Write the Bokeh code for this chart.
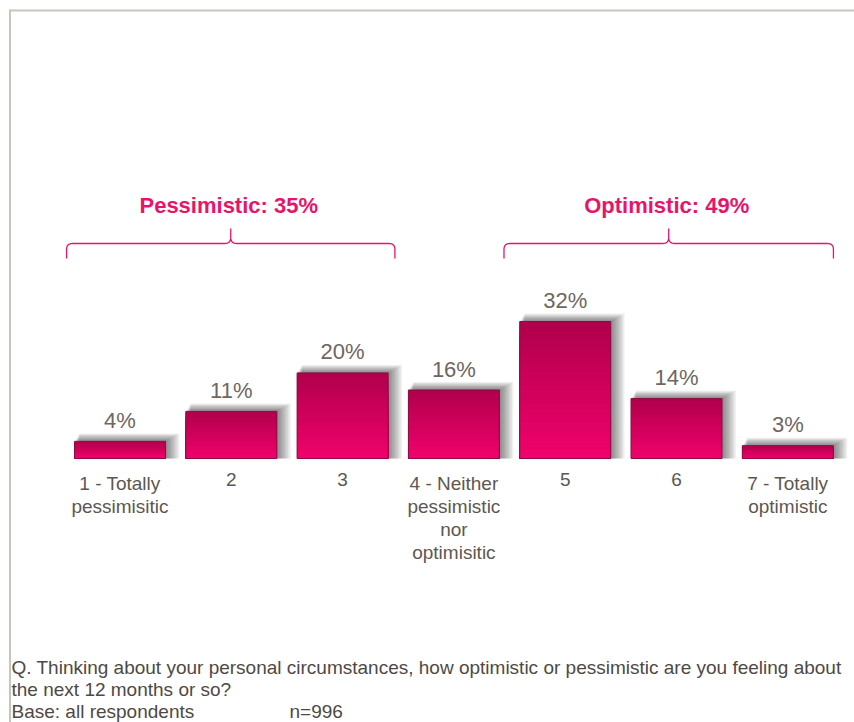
from bokeh.plotting import figure
from bokeh.models import Range1d, ColumnDataSource
from bokeh.core.properties import value
from bokeh.embed import file_html
from bokeh.resources import INLINE

# ---------------- data ----------------
categories = ["1 - Totally\npessimisitic", "2", "3",
              "4 - Neither\npessimistic\nnor\noptimisitic", "5", "6",
              "7 - Totally\noptimistic"]
values = [4, 11, 20, 16, 32, 14, 3]
value_labels = ["4%", "11%", "20%", "16%", "32%", "14%", "3%"]
group_titles = ["Pessimistic: 35%", "Optimistic: 49%"]
group_first = [0, 4]
group_last = [2, 6]
footnote_lines = [
    "Q. Thinking about your personal circumstances, how optimistic or pessimistic are you feeling about",
    "the next 12 months or so?",
    "Base: all respondents",
]
footnote_n = "n=996"

# ---------------- layout ----------------
W, H = 854, 722
SX = 111.3      # px per category
SY = 4.28       # px per percent
X0PX = 119.5    # px of first category centre
BASEPX = 458    # px of the zero line

def px_x(px):
    return (px - X0PX) / SX

def px_y(py):
    return (BASEPX - py) / SY

p = figure(width=W, height=H, output_backend="svg", toolbar_location=None,
           x_range=Range1d(px_x(0), px_x(W)), y_range=Range1d(px_y(H), px_y(0)),
           min_border=0, min_border_left=0, min_border_right=0,
           min_border_top=0, min_border_bottom=0)
p.axis.visible = False
p.grid.visible = False
p.outline_line_color = None
p.background_fill_color = "white"
p.border_fill_color = "white"

FONT = value("Liberation Sans")
BW = 91 / SX
xs = list(range(len(values)))

# border (top and left)
p.line([px_x(9), px_x(W + 5)], [px_y(10), px_y(10)], line_color="#c9c5bd", line_width=2)
p.line([px_x(9.5), px_x(9.5)], [px_y(9), px_y(H + 5)], line_color="#c9c5bd", line_width=2)

# shadows
for k in range(1, 11):
    p.quad(left=[x - BW / 2 + k * 0.5 / SX for x in xs],
           right=[x + BW / 2 + k * 1.4 / SX for x in xs],
           top=[v + k * 0.8 / SY for v in values],
           bottom=[0] * len(values),
           fill_color="black", fill_alpha=0.055, line_color=None)

# bars with vertical gradient (overlapping layers, tallest first -> no seams)
top_rgb = (0xb0, 0x00, 0x4b)
bot_rgb = (0xf0, 0x02, 0x6c)
N = 30
L, R, T, B, C = [], [], [], [], []
for i in range(N, 0, -1):
    f = (i - 0.5) / N
    rgb = tuple(int(round(bot_rgb[j] + (top_rgb[j] - bot_rgb[j]) * f)) for j in range(3))
    for x, v in zip(xs, values):
        L.append(x - BW / 2)
        R.append(x + BW / 2)
        B.append(0)
        T.append(v * i / N)
        C.append("#%02x%02x%02x" % rgb)
p.quad(left=L, right=R, top=T, bottom=B, fill_color=C, line_color=None)
p.quad(left=[x - BW / 2 for x in xs], right=[x + BW / 2 for x in xs],
       top=values, bottom=[0] * len(values),
       fill_color=None, line_color="#8e0a45", line_width=1)

# value labels
src = ColumnDataSource(dict(x=xs, y=[v + 21 / SY for v in values], t=value_labels))
p.text(x="x", y="y", text="t", source=src, text_align="center",
       text_baseline="alphabetic", text_font=FONT, text_font_size="22px",
       text_color="#6e6660")

# category labels, one row per line
lx, ly, lt = [], [], []
for x, cat in zip(xs, categories):
    for k, part in enumerate(cat.split("\n")):
        lx.append(x)
        ly.append(px_y(472 + 23 * k))
        lt.append(part)
src2 = ColumnDataSource(dict(x=lx, y=ly, t=lt))
p.text(x="x", y="y", text="t", source=src2, text_align="center",
       text_baseline="top", text_font=FONT, text_font_size="19px",
       text_color="#5e5751")

# brackets and group titles
PINK = "#e8146b"
ext_left = [0.48, 0.55]
ext_right = [0.47, 0.41]
y_line, y_end, y_tip = px_y(243), px_y(258), px_y(228)
rx, ry = 6 / SX, 6 / SY

def qbez(p0, c, p1, n=8):
    pts = []
    for i in range(1, n + 1):
        t = i / n
        pts.append(((1 - t) ** 2 * p0[0] + 2 * (1 - t) * t * c[0] + t ** 2 * p1[0],
                    (1 - t) ** 2 * p0[1] + 2 * (1 - t) * t * c[1] + t ** 2 * p1[1]))
    return pts

for title, g0, g1, el, er in zip(group_titles, group_first, group_last, ext_left, ext_right):
    xl = g0 - el
    xr = g1 + er
    xc = (xl + xr) / 2
    pts = [(xl, y_end), (xl, y_line - ry)]
    pts += qbez((xl, y_line - ry), (xl, y_line), (xl + rx, y_line))
    pts.append((xc - rx, y_line))
    pts += qbez((xc - rx, y_line), (xc, y_line), (xc, y_line + ry))
    pts.append((xc, y_tip))
    pts.append((xc, y_line + ry))
    pts += qbez((xc, y_line + ry), (xc, y_line), (xc + rx, y_line))
    pts.append((xr - rx, y_line))
    pts += qbez((xr - rx, y_line), (xr, y_line), (xr, y_line - ry))
    pts.append((xr, y_end))
    p.line([q[0] for q in pts], [q[1] for q in pts], line_color=PINK, line_width=1.3)
    p.text(x=[xc - 2 / SX], y=[px_y(205)], text=[title], text_align="center",
           text_baseline="alphabetic", text_font=FONT, text_font_size="22px",
           text_font_style="bold", text_color=PINK)

# footnotes
foot_y = [667, 689, 711]
for line, fy in zip(footnote_lines, foot_y):
    p.text(x=[px_x(11)], y=[px_y(fy)], text=[line], text_align="left",
           text_baseline="alphabetic", text_font=FONT, text_font_size="19px",
           text_color="#4e4945")
p.text(x=[px_x(289)], y=[px_y(foot_y[2])], text=[footnote_n], text_align="left",
       text_baseline="alphabetic", text_font=FONT, text_font_size="19px",
       text_color="#4e4945")

open("out.html", "w").write(file_html(p, INLINE))
